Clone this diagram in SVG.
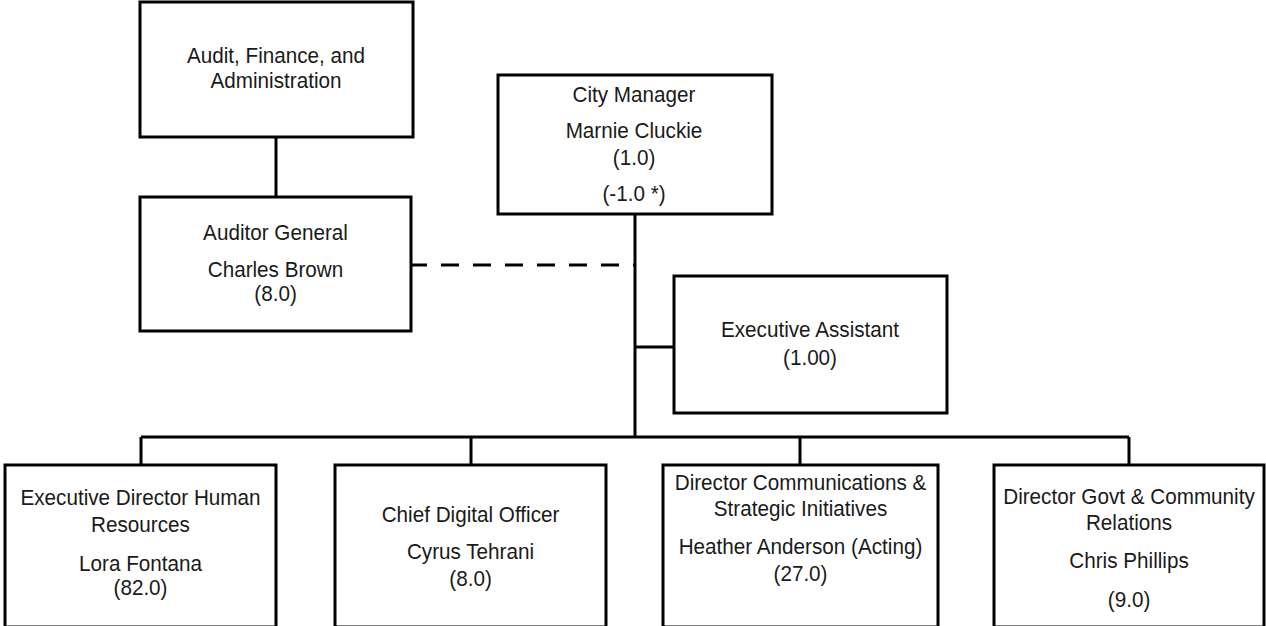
<svg xmlns="http://www.w3.org/2000/svg" width="1266" height="626" viewBox="0 0 1266 626">
<style>
.box{fill:#fff;stroke:#000;stroke-width:3}
.ln{fill:none;stroke:#000;stroke-width:3}
.dash{fill:none;stroke:#000;stroke-width:3;stroke-dasharray:18 14}
text{font-family:"Liberation Sans",Arial,sans-serif;font-size:22px;fill:#1a1a1a;text-anchor:middle}
</style>
<rect width="1266" height="626" fill="#fff"/>
<g id="connectors">
<path class="ln" d="M276 137V197"/>
<path class="ln" d="M635 214V437"/>
<path class="dash" d="M409 265H635"/>
<path class="ln" d="M635 347H674"/>
<path class="ln" d="M141 437H1129"/>
<path class="ln" d="M141 437V465M471 437V465M800 437V465M1129 437V465"/>
</g>
<g id="audit-finance">
<rect class="box" x="140" y="2" width="273" height="135"/>
<text transform="translate(276 63) scale(0.94 1)">Audit, Finance, and</text>
<text transform="translate(276 88) scale(0.94 1)">Administration</text>
</g>
<g id="auditor-general">
<rect class="box" x="140" y="197" width="271" height="134"/>
<text transform="translate(275.5 240) scale(0.94 1)">Auditor General</text>
<text transform="translate(275.5 277) scale(0.94 1)">Charles Brown</text>
<text transform="translate(275.5 301) scale(0.94 1)">(8.0)</text>
</g>
<g id="city-manager">
<rect class="box" x="498" y="75" width="274" height="139"/>
<text transform="translate(634 102) scale(0.94 1)">City Manager</text>
<text transform="translate(634 138) scale(0.94 1)">Marnie Cluckie</text>
<text transform="translate(634 165) scale(0.94 1)">(1.0)</text>
<text transform="translate(634 201) scale(0.94 1)">(-1.0 *)</text>
</g>
<g id="executive-assistant">
<rect class="box" x="674" y="276" width="273" height="137"/>
<text transform="translate(810 337) scale(0.94 1)">Executive Assistant</text>
<text transform="translate(810 365) scale(0.94 1)">(1.00)</text>
</g>
<g id="hr">
<rect class="box" x="5" y="465" width="271" height="162"/>
<text transform="translate(140.5 505) scale(0.94 1)">Executive Director Human</text>
<text transform="translate(140.5 532) scale(0.94 1)">Resources</text>
<text transform="translate(140.5 571) scale(0.94 1)">Lora Fontana</text>
<text transform="translate(140.5 595) scale(0.94 1)">(82.0)</text>
</g>
<g id="cdo">
<rect class="box" x="335" y="465" width="271" height="162"/>
<text transform="translate(470.5 522) scale(0.94 1)">Chief Digital Officer</text>
<text transform="translate(470.5 559) scale(0.94 1)">Cyrus Tehrani</text>
<text transform="translate(470.5 586) scale(0.94 1)">(8.0)</text>
</g>
<g id="communications">
<rect class="box" x="663" y="465" width="275" height="162"/>
<text transform="translate(800.5 490) scale(0.94 1)">Director Communications &amp;</text>
<text transform="translate(800.5 516) scale(0.94 1)">Strategic Initiatives</text>
<text transform="translate(800.5 554) scale(0.94 1)">Heather Anderson (Acting)</text>
<text transform="translate(800.5 581) scale(0.94 1)">(27.0)</text>
</g>
<g id="govt-relations">
<rect class="box" x="994" y="465" width="270" height="162"/>
<text transform="translate(1129 504) scale(0.94 1)">Director Govt &amp; Community</text>
<text transform="translate(1129 530) scale(0.94 1)">Relations</text>
<text transform="translate(1129 568) scale(0.94 1)">Chris Phillips</text>
<text transform="translate(1129 607) scale(0.94 1)">(9.0)</text>
</g>
</svg>
